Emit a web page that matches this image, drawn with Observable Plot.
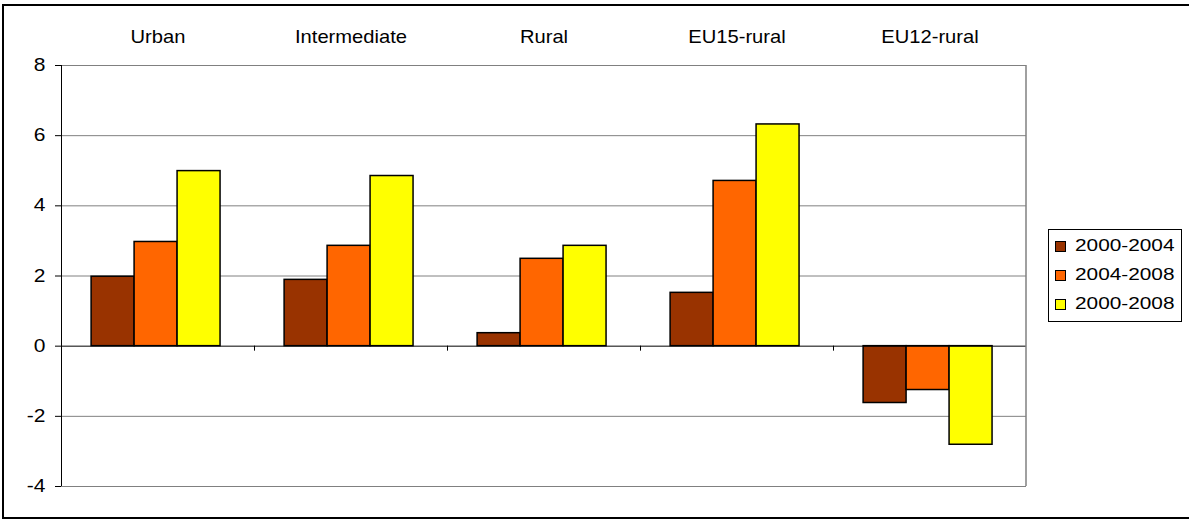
<!DOCTYPE html>
<html>
<head>
<meta charset="utf-8">
<script src="https://cdn.jsdelivr.net/npm/d3@7"></script>
<script src="https://cdn.jsdelivr.net/npm/@observablehq/plot@0.6"></script>
<style>
  body { margin: 0; background: #fff; font-family: "Liberation Sans", Arial, sans-serif; }
  #wrap { position: relative; width: 1189px; height: 519px; overflow: hidden; }
  #border { position: absolute; left: 2px; top: 4px; width: 1200px; height: 515px; border: 2px solid #000; box-sizing: border-box; pointer-events: none; }
  #wrap svg { position: absolute; left: 0; top: 0; }
  #legend { position: absolute; left: 1048px; top: 229px; width: 134px; height: 93px; border: 1px solid #000; box-sizing: border-box; background: #fff; }
  .item { position: absolute; left: 0; height: 20px; width: 130px; }
  .sw { position: absolute; left: 6px; top: 5px; width: 9px; height: 9px; border: 1px solid #000; }
  .lab { position: absolute; left: 26px; top: 0px; font-size: 16px; line-height: 20px; white-space: nowrap; transform: scaleX(1.3); transform-origin: left center; color: #000; }
</style>
</head>
<body>
<div id="wrap"><div id="border"></div></div>
<script>
const categories = ["Urban", "Intermediate", "Rural", "EU15-rural", "EU12-rural"];
const periods = ["2000-2004", "2004-2008", "2000-2008"];
const colors = ["#993300", "#FF6600", "#FFFF00"];
const v2000_2004 = [1.98, 1.89, 0.37, 1.52, -1.62];
const v2004_2008 = [2.97, 2.86, 2.49, 4.71, -1.25];
const v2000_2008 = [4.99, 4.85, 2.86, 6.32, -2.81];
const yTicks = [-4, -2, 0, 2, 4, 6, 8];
const gridTicks = [-4, -2, 2, 4, 6, 8];

const series = [v2000_2004, v2004_2008, v2000_2008];
const data = categories.flatMap((c, i) =>
  periods.map((p, j) => ({category: c, period: p, value: series[j][i]}))
);

const chart = Plot.plot({
  width: 1189,
  height: 519,
  marginLeft: 61,
  marginRight: 163,
  marginTop: 65,
  marginBottom: 33,
  style: {fontFamily: "'Liberation Sans', Arial, sans-serif", background: "transparent", overflow: "visible", color: "#000"},
  fx: {domain: categories, padding: 0, label: null},
  x: {domain: periods, axis: null, paddingInner: 0, paddingOuter: 0.745, align: 0.47, round: false},
  y: {domain: [-4, 8], label: null},
  color: {domain: periods, range: colors},
  marks: [
    Plot.ruleY(gridTicks, {stroke: "#808080", strokeWidth: 1}),
    Plot.barY(data, {fx: "category", x: "period", y: "value", fill: "period", stroke: "#000", strokeWidth: 1.5}),
    Plot.ruleY([0], {stroke: "#000", strokeWidth: 1}),
    Plot.axisY({ticks: yTicks, tickSize: 6, tickPadding: 10, fontSize: 17.5, tickFormat: d => String(d), label: null, anchor: "left"}),
    Plot.axisFx({anchor: "top", tickSize: 0, tickPadding: 23, fontSize: 18, label: null})
  ]
});

const wrap = document.getElementById("wrap");
wrap.appendChild(chart);

// extra lines via the chart's own scales
const fx = chart.scale("fx"), y = chart.scale("y");
const svg = d3.select(chart);
const x0 = fx.apply(categories[0]);
const xEnd = fx.apply(categories[categories.length - 1]) + fx.bandwidth;
svg.append("line")
  .attr("x1", xEnd).attr("x2", xEnd)
  .attr("y1", y.apply(8)).attr("y2", y.apply(-4))
  .attr("stroke", "#808080").attr("stroke-width", 1.5);
svg.append("line")
  .attr("x1", x0 + 0.5).attr("x2", x0 + 0.5)
  .attr("y1", y.apply(8)).attr("y2", y.apply(-4))
  .attr("stroke", "#000").attr("stroke-width", 1);
categories.slice(1).forEach(c => {
  const xx = Math.round(fx.apply(c)) + 0.5;
  svg.append("line")
    .attr("x1", xx).attr("x2", xx)
    .attr("y1", y.apply(0)).attr("y2", y.apply(0) + 5)
    .attr("stroke", "#000");
});

// horizontally widen text to match the reference's stretched glyphs
svg.selectAll("text").each(function() {
  const el = this;
  const fs = parseFloat(getComputedStyle(el).fontSize);
  const s = fs >= 18 ? 1.12 : 1.2;
  const bb = el.getBBox();
  const anchor = getComputedStyle(el).textAnchor;
  const ax = anchor === "end" ? bb.x + bb.width : anchor === "middle" ? bb.x + bb.width / 2 : bb.x;
  const t = el.getAttribute("transform") || "";
  el.setAttribute("transform", `${t} translate(${ax},0) scale(${s},1) translate(${-ax},0)`);
});

// legend
const legend = document.createElement("div");
legend.id = "legend";
periods.forEach((p, i) => {
  const item = document.createElement("div");
  item.className = "item";
  item.style.top = (6 + i * 29) + "px";
  const sw = document.createElement("div");
  sw.className = "sw";
  sw.style.background = colors[i];
  const lab = document.createElement("div");
  lab.className = "lab";
  lab.textContent = p;
  item.appendChild(sw);
  item.appendChild(lab);
  legend.appendChild(item);
});
wrap.appendChild(legend);
</script>
</body>
</html>
